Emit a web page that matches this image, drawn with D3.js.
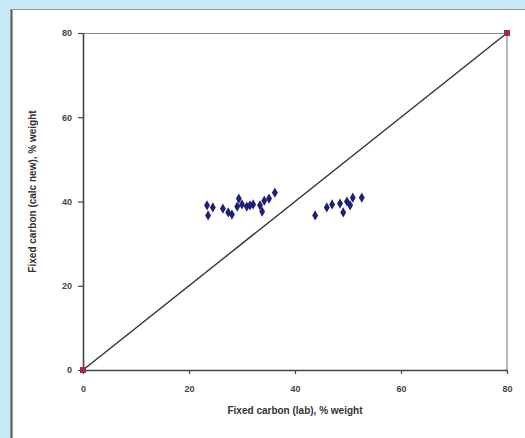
<!DOCTYPE html>
<html>
<head>
<meta charset="utf-8">
<script src="https://cdn.jsdelivr.net/npm/d3@7"></script>
<style>
  body { margin: 0; background: #c6e9f8; }
  svg { display: block; font-family: "Liberation Sans", Arial, sans-serif; }
</style>
</head>
<body>
<div id="chart"></div>
<script>
// fixed carbon, lab vs calculated (new)
const labValues = [23.4, 23.6, 24.5, 26.4, 27.4, 28.1, 29.1, 29.4, 30.0, 30.9, 31.5, 32.1, 33.4, 33.8, 34.2, 35.1, 36.2,
  43.8, 46.0, 47.0, 48.5, 49.1, 49.8, 50.4, 50.9, 52.6];
const calcValues = [39.1, 36.7, 38.6, 38.3, 37.4, 36.9, 38.8, 40.7, 39.3, 38.8, 39.1, 39.3, 39.1, 37.6, 40.2, 40.7, 42.1,
  36.7, 38.6, 39.3, 39.5, 37.4, 40.0, 39.1, 40.9, 40.9];
const refLine = [0, 80];
const tickValues = [0, 20, 40, 60, 80];

const W = 525, H = 438;
const MARGIN = { left: 83, right: 18, top: 33, bottom: 68 };
const WIDTH = W - MARGIN.left - MARGIN.right;
const HEIGHT = H - MARGIN.top - MARGIN.bottom;

const svg = d3.select("#chart").append("svg")
  .attr("width", W)
  .attr("height", H);

// white panel
svg.append("rect")
  .attr("x", 11).attr("y", 9)
  .attr("width", W - 11).attr("height", H - 9)
  .attr("fill", "#ffffff");
svg.append("line")
  .attr("x1", 11.5).attr("x2", 11.5).attr("y1", 9).attr("y2", H)
  .attr("stroke", "#555").attr("stroke-width", 2);
svg.append("line")
  .attr("x1", 11).attr("x2", W).attr("y1", 9.5).attr("y2", 9.5)
  .attr("stroke", "#999").attr("stroke-width", 1);

const g = svg.append("g")
  .attr("transform", `translate(${MARGIN.left},${MARGIN.top})`);

const x = d3.scaleLinear().domain([0, 80]).range([0, WIDTH]);
const y = d3.scaleLinear().domain([0, 80]).range([HEIGHT, 0]);

// plot frame (top and right)
g.append("path")
  .attr("d", `M0,0.5H${WIDTH}V${HEIGHT}`)
  .attr("fill", "none")
  .attr("stroke", "#888")
  .attr("stroke-width", 1.2);

const xAxis = d3.axisBottom(x).tickValues(tickValues).tickSize(4).tickSizeOuter(0);
const yAxis = d3.axisLeft(y).tickValues(tickValues).tickSize(5).tickSizeOuter(0);

const xAxisGroup = g.append("g")
  .attr("transform", `translate(0,${HEIGHT})`)
  .call(xAxis);
const yAxisGroup = g.append("g").call(yAxis);

[xAxisGroup, yAxisGroup].forEach(ax => {
  ax.select(".domain").attr("stroke", "#444").attr("stroke-width", 1.6);
  ax.selectAll(".tick line").attr("stroke", "#444").attr("stroke-width", 1.2);
  ax.selectAll(".tick text")
    .attr("fill", "#444")
    .style("font-size", "9px")
    .style("font-weight", "bold");
});
xAxisGroup.selectAll(".tick text").attr("y", 16);
yAxisGroup.selectAll(".tick text").attr("x", -11);

// 1:1 line
g.append("line")
  .attr("x1", x(refLine[0])).attr("y1", y(refLine[0]))
  .attr("x2", x(refLine[1])).attr("y2", y(refLine[1]))
  .attr("stroke", "#333")
  .attr("stroke-width", 1.4);

g.selectAll(".endpt").data(refLine).enter().append("rect")
  .attr("class", "endpt")
  .attr("x", d => x(d) - 3)
  .attr("y", d => y(d) - 3)
  .attr("width", 6).attr("height", 6)
  .attr("fill", "#9b2c50");

// data points
const diamond = d3.symbol().type(d3.symbolDiamond).size(30);
g.selectAll(".pt").data(labValues).enter().append("path")
  .attr("class", "pt")
  .attr("d", diamond)
  .attr("transform", (d, i) => `translate(${x(d)},${y(calcValues[i])})`)
  .attr("fill", "#1f1f78");

// axis titles
g.append("text")
  .attr("x", WIDTH / 2)
  .attr("y", HEIGHT + 44)
  .attr("text-anchor", "middle")
  .attr("fill", "#333")
  .style("font-size", "10px")
  .style("font-weight", "bold")
  .text("Fixed carbon (lab), % weight");

g.append("text")
  .attr("transform", "rotate(-90)")
  .attr("x", -HEIGHT / 2 + 10)
  .attr("y", -47)
  .attr("text-anchor", "middle")
  .attr("fill", "#333")
  .style("font-size", "10px")
  .style("font-weight", "bold")
  .text("Fixed carbon (calc new), % weight");
</script>
</body>
</html>
